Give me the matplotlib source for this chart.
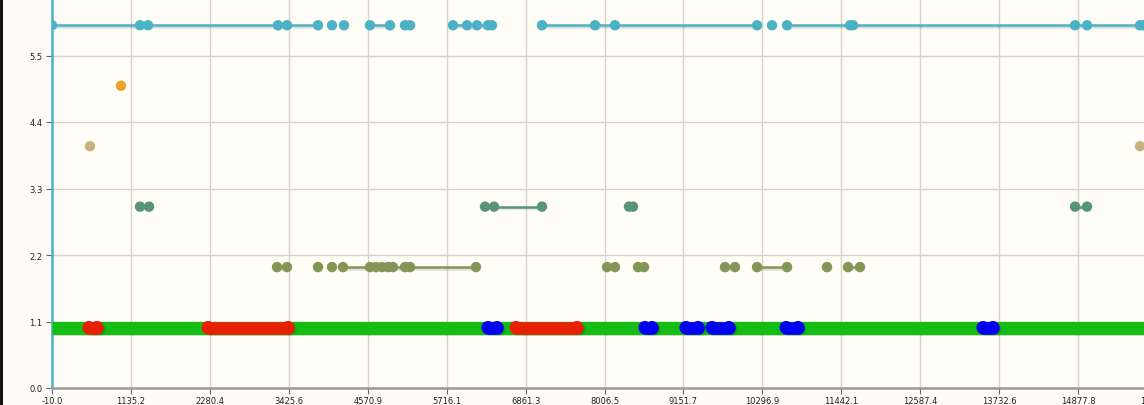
import numpy as np
import matplotlib
matplotlib.use("Agg")
import matplotlib.pyplot as plt
import matplotlib.patheffects as pe
from matplotlib.patches import Rectangle

nan = np.nan

# ---------------- data ----------------
x_ticks = [-10.0, 1135.2, 2280.4, 3425.6, 4570.9, 5716.1, 6861.3, 8006.5,
           9151.7, 10296.9, 11442.1, 12587.4, 13732.6, 14877.8, 16023.0]
y_ticks = [0.0, 1.1, 2.2, 3.3, 4.4, 5.5, 6.6]
y_tick_labels = ["0.0", "1.1", "2.2", "3.3", "4.4", "5.5", ""]

# level 6 (teal) - NaN breaks the line
s6_x = [-10, 1267, 1383, 3269, 3400, 3850, nan, 4053, nan, 4227, nan,
        4604, 4894, nan, 5112, 5185, nan, 5809, 6012, 6157, 6316, 6374, nan,
        7100, 7869, 8159, 10220, nan, 10437, nan,
        10655, 11569, 11613, 14834, 15008, 15777, 15821]
s6_y = 6

# level 5 (orange)
s5_x = [991]
s5_y = 5

# level 4 (tan)
s4_x = [541, nan, 15777]
s4_y = 4

# level 3 (dark green)
s3_x = [1267, 1398, nan, 6273, 6404, 7100, nan, 8362, 8420, nan, 14834, 15008]
s3_y = 3

# level 2 (olive)
s2_x = [3255, 3400, nan, 3850, nan, 4053, nan, 4212, 4604, 4691, 4778, 4865,
        4938, 5112, 5185, 6142, nan, 8043, 8159, nan, 8493, 8580, nan,
        9755, 9900, nan, 10220, 10655, nan, 11235, nan, 11540, 11714]
s2_y = 2

# level 1
green_x = [-10, 16023]
red_x = [527, 643, nan, 2254, 3414, nan, 6723, 7608]
blue_x = [6316, 6447, nan, 8594, 8696, nan, 9189, 9363, nan, 9567, 9813, nan,
          10641, 10815, nan, 13499, 13644]
s1_y = 1

# ---------------- figure ----------------
W, H, DPI = 1144, 406, 100
fig = plt.figure(figsize=(W / DPI, H / DPI), dpi=DPI)
fig.patch.set_facecolor("#fdfcf8")
# thin dark frame edge at the far left of the screenshot
fig.patches.append(Rectangle((0, 0), 3 / W, 1, transform=fig.transFigure,
                             facecolor="#111111", edgecolor="none"))

x_min, x_max = -10.0, 16023.0
y_min, y_max = 0.0, 6.6
left_px, right_px = 52, 1157
bottom_px, top_px = 389, -10  # from top
ax = fig.add_axes([left_px / W, (H - bottom_px) / H,
                   (right_px - left_px) / W, (bottom_px - top_px) / H])
ax.set_facecolor("#fffdf6")
ax.set_xlim(x_min, x_max)
ax.set_ylim(y_min, y_max)

ax.set_xticks(x_ticks)
ax.set_xticklabels([f"{v:.1f}" for v in x_ticks])
ax.set_yticks(y_ticks)
ax.set_yticklabels(y_tick_labels)
ax.grid(True, color="#d6d3cc", linewidth=1.0)
ax.set_axisbelow(True)
ax.tick_params(axis="both", labelsize=6, colors="#666666", length=4,
               width=0.8, labelcolor="#222222")
ax.tick_params(axis="x", pad=2)
ax.tick_params(axis="y", pad=3)

for side in ["top", "right"]:
    ax.spines[side].set_visible(False)
ax.spines["left"].set_color("#4bb2c5")
ax.spines["left"].set_linewidth(1.8)
ax.spines["bottom"].set_color("#9a9a9a")
ax.spines["bottom"].set_linewidth(1.8)

shadow = [pe.SimpleLineShadow(offset=(1.2, -1.2), shadow_color="#000000",
                              alpha=0.12), pe.Normal()]


def series(xs, y, color, lw=1.8, ms=7.5, marker="o", cap="butt"):
    xs = np.asarray(xs, dtype=float)
    ys = np.where(np.isnan(xs), nan, y)
    ax.plot(xs, ys, color=color, linewidth=lw, marker=marker, markersize=ms,
            markeredgewidth=0, solid_capstyle=cap, path_effects=shadow,
            clip_on=True, zorder=3)


series(s6_x, s6_y, "#4bb2c5")
series(s5_x, s5_y, "#EAA228")
series(s4_x, s4_y, "#c5b47f")
series(s3_x, s3_y, "#579575")
series(s2_x, s2_y, "#839557")

# level 1 band
ax.plot(green_x, [s1_y] * len(green_x), color="#14bd14", linewidth=9.5,
        solid_capstyle="butt", path_effects=shadow, zorder=3)
series(red_x, s1_y, "#e62000", lw=9.0, ms=9.5, cap="round")
series(blue_x, s1_y, "#0000f0", lw=9.0, ms=9.5, cap="round")

fig.savefig("out.png", dpi=DPI)
